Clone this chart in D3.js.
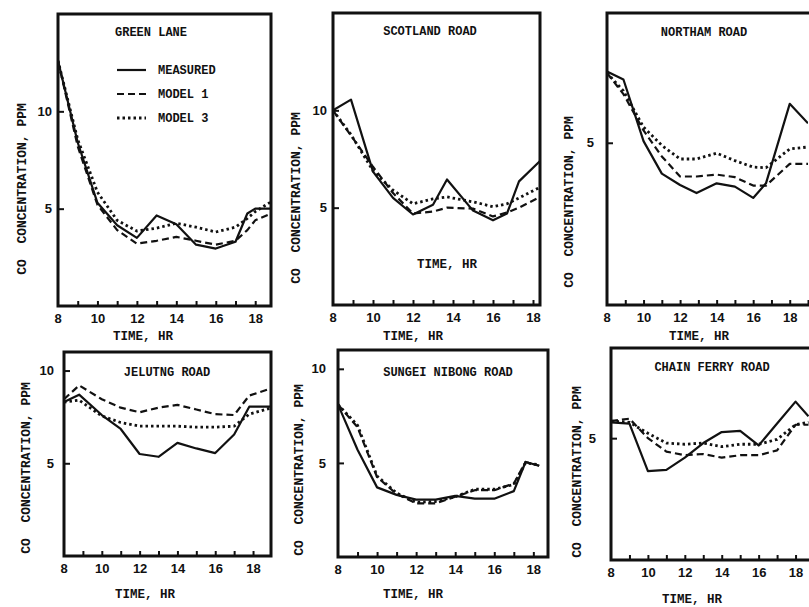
<!DOCTYPE html>
<html>
<head>
<meta charset="utf-8">
<script src="https://cdn.jsdelivr.net/npm/d3@7"></script>
<style>
  body { margin: 0; background: #fff; }
  svg {
    display: block;
    font-family: "Liberation Mono", "DejaVu Sans Mono", monospace;
    font-weight: bold;
    fill: #111;
  }
  .frame { fill: none; stroke: #111; stroke-width: 3; }
  .axis .domain { display: none; }
  .axis line { stroke: #111; stroke-width: 2; }
  .axis text { font-family: inherit; font-size: 13px; font-weight: bold; fill: #111; }
  .series { fill: none; stroke: #111; stroke-linejoin: round; }
</style>
</head>
<body>
<svg id="chart" width="809" height="607"></svg>
<script>
// station names and legend labels
const stations = ["GREEN LANE", "SCOTLAND ROAD", "NORTHAM ROAD",
                  "JELUTNG ROAD", "SUNGEI NIBONG ROAD", "CHAIN FERRY ROAD"];
const seriesNames = ["MEASURED", "MODEL 1", "MODEL 3"];
const xTickLabels = [8, 10, 12, 14, 16, 18];

// hours of day
const greenLaneHours = [8, 9, 10, 11, 12, 13, 14, 15, 16, 17, 17.6, 18, 18.8];
const scotlandHours  = [8, 8.9, 10, 11, 12, 13, 13.7, 15, 16, 16.7, 17.3, 18.35];
const northamHours   = [8, 8.9, 10, 11, 12, 12.9, 14, 15, 16, 16.7, 18, 19];
const jelutongHours  = [8, 8.8, 10, 11, 12, 13, 14, 15, 16, 17, 17.8, 19];
const sungeiHours    = [8, 9, 10, 11, 12, 13, 14, 15, 16, 17, 17.6, 18.3];
const chainHours     = [8, 9, 10, 11, 12, 13, 14, 15, 16, 17, 18, 18.7];

// CO concentration, ppm
const greenLaneMeasured = [12.6, 8.4, 5.3, 4.15, 3.5, 4.65, 4.2, 3.15, 2.95, 3.3, 4.75, 5.0, 5.0];
const greenLaneModel1   = [12.6, 8.2, 5.2, 3.9, 3.2, 3.35, 3.55, 3.35, 3.15, 3.35, 3.9, 4.4, 4.75];
const greenLaneModel3   = [12.6, 8.55, 5.85, 4.4, 3.85, 4.0, 4.25, 4.05, 3.8, 4.05, 4.5, 4.85, 5.35];

const scotlandMeasured = [10.0, 10.55, 6.85, 5.5, 4.65, 5.15, 6.45, 4.85, 4.35, 4.7, 6.35, 7.4];
const scotlandModel1   = [10.0, 8.7, 7.1, 5.75, 4.7, 4.8, 5.0, 4.95, 4.55, 4.75, 5.0, 5.55];
const scotlandModel3   = [10.0, 8.75, 6.9, 5.9, 5.2, 5.45, 5.55, 5.3, 5.05, 5.2, 5.5, 6.05];

const northamMeasured = [7.2, 6.95, 5.05, 4.05, 3.7, 3.45, 3.75, 3.65, 3.3, 3.75, 6.2, 5.6];
const northamModel1   = [7.15, 6.5, 5.38, 4.58, 3.96, 3.96, 4.02, 3.94, 3.68, 3.68, 4.35, 4.35];
const northamModel3   = [7.15, 6.6, 5.48, 4.92, 4.5, 4.5, 4.68, 4.45, 4.25, 4.23, 4.81, 4.87];

const jelutongMeasured = [8.3, 8.7, 7.6, 6.85, 5.5, 5.35, 6.1, 5.8, 5.55, 6.55, 8.05, 8.05];
const jelutongModel1   = [8.45, 9.2, 8.45, 8.0, 7.75, 8.0, 8.15, 7.9, 7.65, 7.6, 8.65, 9.05];
const jelutongModel3   = [8.3, 8.4, 7.55, 7.2, 7.0, 7.0, 7.0, 6.95, 6.95, 7.0, 7.65, 8.0];

const sungeiMeasured = [8.1, 5.7, 3.7, 3.3, 3.05, 3.05, 3.25, 3.1, 3.1, 3.5, 5.05, 4.85];
const sungeiModel1   = [8.1, 6.9, 4.25, 3.35, 2.85, 2.85, 3.2, 3.55, 3.55, 3.9, 5.05, 4.85];
const sungeiModel3   = [8.1, 7.0, 4.3, 3.4, 2.9, 2.95, 3.2, 3.6, 3.6, 3.85, 5.0, 4.9];

const chainMeasured = [5.65, 5.6, 3.65, 3.7, 4.2, 4.8, 5.25, 5.3, 4.7, 5.6, 6.5, 5.9];
const chainModel1   = [5.7, 5.8, 5.0, 4.45, 4.3, 4.35, 4.2, 4.3, 4.3, 4.5, 5.55, 5.55];
const chainModel3   = [5.7, 5.65, 5.2, 4.8, 4.75, 4.8, 4.65, 4.75, 4.75, 4.95, 5.55, 5.65];

const panelData = [
  { hours: greenLaneHours, series: [greenLaneMeasured, greenLaneModel1, greenLaneModel3] },
  { hours: scotlandHours,  series: [scotlandMeasured, scotlandModel1, scotlandModel3] },
  { hours: northamHours,   series: [northamMeasured, northamModel1, northamModel3] },
  { hours: jelutongHours,  series: [jelutongMeasured, jelutongModel1, jelutongModel3] },
  { hours: sungeiHours,    series: [sungeiMeasured, sungeiModel1, sungeiModel3] },
  { hours: chainHours,     series: [chainMeasured, chainModel1, chainModel3] },
];

// where each scanned panel sits on the page
const layout = [
  { xd: [8, 18.8],  xr: [58, 271],  yd: [0, 15],  yr: [306, 14],  yTicks: [5, 10], yPad: 6,
    title: [151, 36],  yTitle: [22, 189],  xTitle: [[143, 340]] },
  { xd: [8, 18.35], xr: [333, 540], yd: [0, 15],  yr: [305, 13],  yTicks: [5, 10], yPad: 6,
    title: [430, 35],  yTitle: [296, 198], xTitle: [[447, 268], [413, 340]] },
  { xd: [8, 19],    xr: [607, 808], yd: [0, 9],   yr: [305, 13],  yTicks: [5],     yPad: 13,
    title: [704, 36],  yTitle: [569, 202], xTitle: [[699, 340]], open: true },
  { xd: [8, 18.95], xr: [64, 271],  yd: [0, 11],  yr: [556, 352], yTicks: [5, 10], yPad: 10,
    title: [167, 376], yTitle: [26, 468],  xTitle: [[145, 598]] },
  { xd: [8, 18.75], xr: [338, 548], yd: [0, 11],  yr: [557, 350], yTicks: [5, 10], yPad: 12,
    title: [448, 376], yTitle: [299, 470], xTitle: [[413, 598]] },
  { xd: [8, 19],    xr: [611, 814], yd: [0, 8.7], yr: [560, 348], yTicks: [5],     yPad: 15,
    title: [712, 371], yTitle: [577, 472], xTitle: [[692, 603]], open: true },
];

const dashes = [null, "7,4", "2.5,3"];
const widths = [2.2, 2.2, 2.8];

const svg = d3.select("#chart");

layout.forEach((p, i) => {
  const x = d3.scaleLinear().domain(p.xd).range(p.xr);
  const y = d3.scaleLinear().domain(p.yd).range(p.yr);
  const g = svg.append("g");

  g.append("clipPath").attr("id", `clip${i}`)
    .append("rect")
    .attr("x", p.xr[0]).attr("y", p.yr[1])
    .attr("width", p.xr[1] - p.xr[0]).attr("height", p.yr[0] - p.yr[1]);

  const { hours, series } = panelData[i];
  const line = d3.line().x((d, k) => x(hours[k])).y((d) => y(d));

  g.append("g").attr("clip-path", `url(#clip${i})`)
    .selectAll("path")
    .data(series)
    .join("path")
    .attr("class", "series")
    .attr("d", line)
    .attr("stroke-width", (d, k) => widths[k])
    .attr("stroke-dasharray", (d, k) => dashes[k]);

  // hourly ticks pointing into the plot, labels every two hours
  const xAxis = d3.axisBottom(x)
    .tickValues(d3.range(9, Math.floor(p.xd[1]) + 1))
    .tickSizeInner(-5).tickSizeOuter(0).tickPadding(8)
    .tickFormat((d) => xTickLabels.includes(d) ? d : "");
  const xg = g.append("g").attr("class", "axis")
    .attr("transform", `translate(0,${p.yr[0]})`)
    .call(xAxis);
  xg.append("text")
    .attr("x", x(8)).attr("y", 8).attr("dy", "0.71em")
    .attr("text-anchor", "middle").text("8");

  g.append("g").attr("class", "axis")
    .attr("transform", `translate(${p.xr[0]},0)`)
    .call(d3.axisLeft(y).tickValues(p.yTicks).tickSizeInner(-6).tickSizeOuter(0).tickPadding(p.yPad));

  // frame
  g.append("path").attr("class", "frame")
    .attr("d", p.open
      ? `M${p.xr[1] + 6},${p.yr[1]}H${p.xr[0]}V${p.yr[0]}H${p.xr[1] + 6}`
      : `M${p.xr[0]},${p.yr[1]}H${p.xr[1]}V${p.yr[0]}H${p.xr[0]}Z`);

  g.append("text")
    .attr("x", p.title[0]).attr("y", p.title[1])
    .attr("text-anchor", "middle").attr("font-size", 12)
    .text(stations[i]);

  g.append("text")
    .attr("transform", `translate(${p.yTitle[0]},${p.yTitle[1]}) rotate(-90)`)
    .attr("text-anchor", "middle").attr("dominant-baseline", "central")
    .attr("font-size", 13)
    .attr("xml:space", "preserve")
    .text("CO  CONCENTRATION, PPM");

  p.xTitle.forEach(([tx, ty]) => {
    g.append("text")
      .attr("x", tx).attr("y", ty)
      .attr("text-anchor", "middle").attr("font-size", 12.5)
      .text("TIME, HR");
  });
});

// legend in the first panel
const legend = svg.append("g").attr("transform", "translate(117,70)");
seriesNames.forEach((name, k) => {
  const row = legend.append("g").attr("transform", `translate(0,${k * 24})`);
  row.append("line")
    .attr("x1", 0).attr("x2", 29).attr("y1", 0).attr("y2", 0)
    .attr("stroke", "#111")
    .attr("stroke-width", widths[k])
    .attr("stroke-dasharray", dashes[k]);
  row.append("text")
    .attr("x", 41).attr("y", 4)
    .attr("font-size", 12)
    .text(name);
});
</script>
</body>
</html>
